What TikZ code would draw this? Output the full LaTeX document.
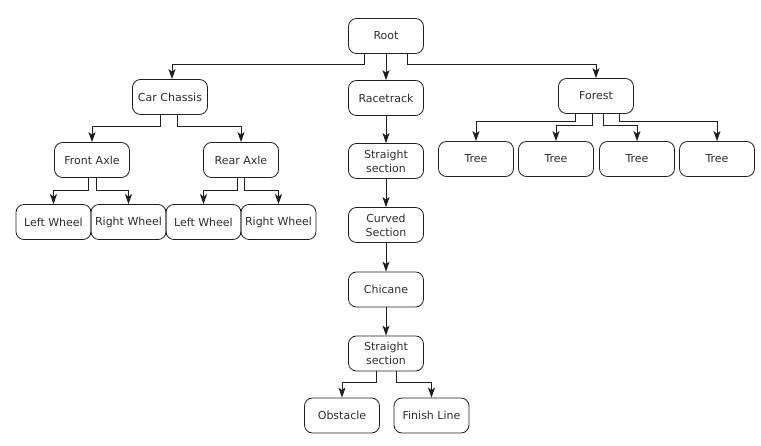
\documentclass[tikz,border=0pt]{standalone}
\usepackage{fontspec}
\setmainfont{DejaVu Sans}
\usetikzlibrary{arrows.meta,positioning}
\definecolor{lineGray}{RGB}{30,30,30}
\definecolor{textGray}{RGB}{45,45,45}

\begin{document}
\begin{tikzpicture}[x=1pt, y=-1pt, >={Stealth[length=10pt,width=7pt,inset=2.5pt]},
    box/.style={draw=lineGray, line width=0.8pt, rounded corners=8pt,
      minimum width=75pt, minimum height=35pt, inner sep=2pt, align=center,
      text=textGray, font=\fontsize{11pt}{14pt}\selectfont},
    link/.style={->, draw=lineGray, line width=0.8pt}]
    \useasboundingbox (0,0) rectangle (761,446);
    % --- top level ---
    \node[box] (root) at (386,36) {Root};
    \node[box] (chassis) at (170,97) {Car Chassis};
    \node[box] (racetrack) at (386,98) {Racetrack};
    \node[box] (forest) at (596,96) {Forest};
    % --- car chassis branch ---
    \node[box] (frontaxle) at (92,160) {Front Axle};
    \node[box] (rearaxle) at (241,160) {Rear Axle};
    \node[box] (lwheelf) at (53.5,222) {Left Wheel};
    \node[box] (rwheelf) at (128.5,222) {Right Wheel};
    \node[box] (lwheelr) at (203.5,222) {Left Wheel};
    \node[box] (rwheelr) at (278.5,222) {Right Wheel};
    % --- racetrack chain ---
    \node[box] (straighta) at (386,161) {Straight\\section};
    \node[box] (curved) at (386,225) {Curved\\Section};
    \node[box] (chicane) at (386,289.5) {Chicane};
    \node[box] (straightb) at (386,353.5) {Straight\\section};
    \node[box] (obstacle) at (342,415.5) {Obstacle};
    \node[box] (finish) at (431.5,415.5) {Finish Line};
    % --- forest branch ---
    \node[box] (tree1) at (476,159) {Tree};
    \node[box] (tree2) at (556,159) {Tree};
    \node[box] (tree3) at (637,159) {Tree};
    \node[box] (tree4) at (717,159) {Tree};
    % --- links from root ---
    \draw[link] ([xshift=-22pt]root.south) -- ++(0,11) -| ([xshift=2pt]chassis.north);
    \draw[link] (root.south) -- (racetrack.north);
    \draw[link] ([xshift=21pt]root.south) -- ++(0,11) -| (forest.north);
    % --- links in car chassis branch ---
    \draw[link] ([xshift=-10pt]chassis.south) -- ++(0,12) -| (frontaxle.north);
    \draw[link] ([xshift=7pt]chassis.south) -- ++(0,12) -| (rearaxle.north);
    \draw[link] ([xshift=-4pt]frontaxle.south) -- ++(0,13) -| (lwheelf.north);
    \draw[link] ([xshift=4pt]frontaxle.south) -- ++(0,13) -| (rwheelf.north);
    \draw[link] ([xshift=-4pt]rearaxle.south) -- ++(0,13) -| (lwheelr.north);
    \draw[link] ([xshift=3pt]rearaxle.south) -- ++(0,13) -| (rwheelr.north);
    % --- links in racetrack chain ---
    \draw[link] (racetrack.south) -- (straighta.north);
    \draw[link] (straighta.south) -- (curved.north);
    \draw[link] (curved.south) -- (chicane.north);
    \draw[link] (chicane.south) -- (straightb.north);
    \draw[link] ([xshift=-10pt]straightb.south) -- ++(0,11) -| (obstacle.north);
    \draw[link] ([xshift=10pt]straightb.south) -- ++(0,11) -| (finish.north);
    % --- links in forest branch ---
    \draw[link] ([xshift=-21pt]forest.south) -- ++(0,8) -| (tree1.north);
    \draw[link] ([xshift=-4pt]forest.south) -- ++(0,12) -| (tree2.north);
    \draw[link] ([xshift=7pt]forest.south) -- ++(0,12) -| (tree3.north);
    \draw[link] ([xshift=23pt]forest.south) -- ++(0,8) -| (tree4.north);
\end{tikzpicture}
\end{document}
